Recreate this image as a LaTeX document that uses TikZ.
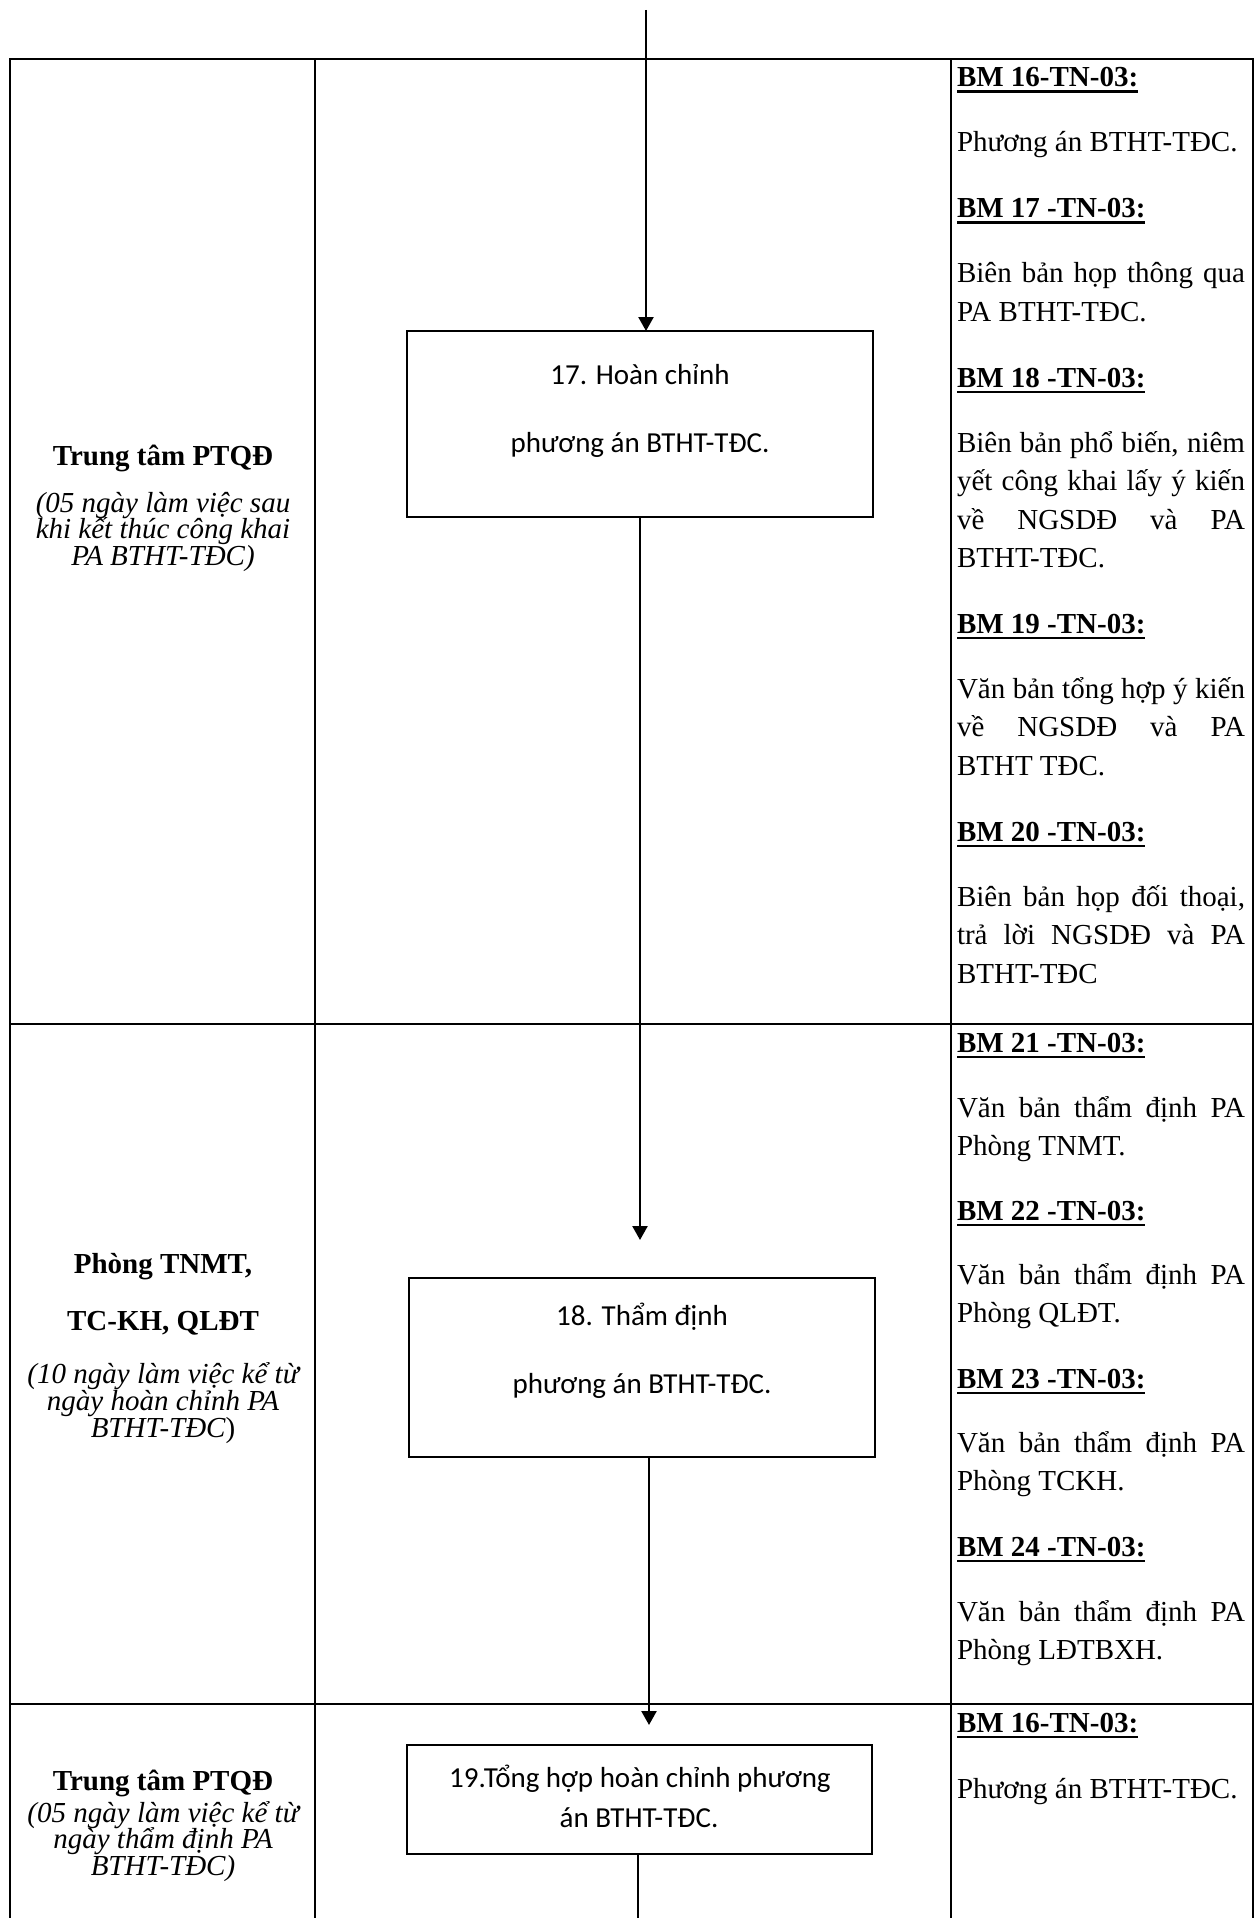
\documentclass[tikz,border=0pt]{standalone}
\usepackage{fontspec}
\setmainfont{Liberation Serif}
\newfontfamily\boxfont{Carlito}
\usetikzlibrary{arrows.meta}

% bold form code with a heavy underline
\newcommand\ulhead[1]{\setbox0\hbox{\bfseries #1}\rlap{\rule[-6pt]{\wd0}{2.5pt}}\box0}
% a full-width justified line of the form column
\newcommand\jline[1]{\makebox[288pt][s]{#1}}

\begin{document}
\begin{tikzpicture}[x=1pt,y=-1pt,
  every node/.style={inner sep=0pt, outer sep=0pt},
  grid/.style={line width=2.6pt},
  stepbox/.style={draw, line width=2pt, fill=white},
  flow/.style={line width=2.4pt},
  flowarrow/.style={line width=2.4pt, -{Triangle[length=14pt,width=15pt]}},
  doc/.style={anchor=base west, font=\fontsize{29}{34}\selectfont},
  who/.style={anchor=base, font=\fontsize{29}{34}\selectfont\bfseries},
  when/.style={anchor=base, font=\fontsize{29}{34}\selectfont\itshape},
  steptext/.style={anchor=base, font=\boxfont\fontsize{29}{34}\selectfont},
]
\useasboundingbox (0,0) rectangle (1258,1918);

% table frame
\draw[grid] (10,1918) -- (10,59) -- (1253,59) -- (1253,1918);
\draw[grid] (315,59) -- (315,1918);
\draw[grid] (951,59) -- (951,1918);
\draw[grid] (10,1024) -- (1253,1024);
\draw[grid] (10,1704) -- (1253,1704);

% process steps
\node[stepbox, minimum width=466pt, minimum height=186pt] (b17) at (640,424) {};
\node[stepbox, minimum width=466pt, minimum height=179pt] (b18) at (642,1367.5) {};
\node[stepbox, minimum width=465pt, minimum height=109pt] (b19) at (639.5,1799.5) {};

\node[steptext] (b17a) at (640,384) {17. Hoàn chỉnh};
\node[steptext] (b17b) at (640,452) {phương án BTHT-TĐC.};
\node[steptext] (b18a) at (642,1325) {18. Thẩm định};
\node[steptext] (b18b) at (642,1393) {phương án BTHT-TĐC.};
\node[steptext] (b19a) at (640,1787) {19.Tổng hợp hoàn chỉnh phương};
\node[steptext] (b19b) at (639,1827) {án BTHT-TĐC.};

% connectors
\coordinate (in) at (646,10);
\coordinate (a18) at (640,1240);
\coordinate (a19) at (649,1725);
\coordinate (out) at (638,1918);
\draw[flowarrow] (in) -- (in |- b17.north);
\draw[flowarrow] (b17.south) -- (a18);
\draw[flowarrow] (b18.south -| a19) -- (a19);
\draw[flow] (b19.south -| out) -- (out);

% responsible units and time limits
\node[who]  (w1a) at (163,465)   {Trung tâm PTQĐ};
\node[when] (w1b) at (163,512)   {(05 ngày làm việc sau};
\node[when] (w1c) at (163,538.5) {khi kết thúc công khai};
\node[when] (w1d) at (163,565)   {PA BTHT-TĐC)};

\node[who]  (w2a) at (163,1273) {Phòng TNMT,};
\node[who]  (w2b) at (163,1330) {TC-KH, QLĐT};
\node[when] (w2c) at (163,1383) {(10 ngày làm việc kể từ};
\node[when] (w2d) at (163,1410) {ngày hoàn chỉnh PA};
\node[when] (w2e) at (163,1437) {BTHT-TĐC\upshape)};

\node[who]  (w3a) at (163,1790)   {Trung tâm PTQĐ};
\node[when] (w3b) at (163,1822)   {(05 ngày làm việc kể từ};
\node[when] (w3c) at (163,1848.5) {ngày thẩm định PA};
\node[when] (w3d) at (163,1875)   {BTHT-TĐC)};

% forms, first row
\node[doc] (f16h) at (957,87)  {\ulhead{BM 16-TN-03:}};
\node[doc] (f16a) at (957,152) {Phương án BTHT-TĐC.};
\node[doc] (f17h) at (957,218) {\ulhead{BM 17 -TN-03:}};
\node[doc] (f17a) at (957,283) {\jline{Biên bản họp thông qua}};
\node[doc] (f17b) at (957,321) {PA BTHT-TĐC.};
\node[doc] (f18h) at (957,387) {\ulhead{BM 18 -TN-03:}};
\node[doc] (f18a) at (957,452) {\jline{Biên bản phổ biến, niêm}};
\node[doc] (f18b) at (957,490) {\jline{yết công khai lấy ý kiến}};
\node[doc] (f18c) at (957,529) {\jline{về NGSDĐ và PA}};
\node[doc] (f18d) at (957,567) {BTHT-TĐC.};
\node[doc] (f19h) at (957,633) {\ulhead{BM 19 -TN-03:}};
\node[doc] (f19a) at (957,698) {\jline{Văn bản tổng hợp ý kiến}};
\node[doc] (f19b) at (957,736) {\jline{về NGSDĐ và PA}};
\node[doc] (f19c) at (957,775) {BTHT TĐC.};
\node[doc] (f20h) at (957,841) {\ulhead{BM 20 -TN-03:}};
\node[doc] (f20a) at (957,906) {\jline{Biên bản họp đối thoại,}};
\node[doc] (f20b) at (957,944) {\jline{trả lời NGSDĐ và PA}};
\node[doc] (f20c) at (957,983) {BTHT-TĐC};

% forms, second row
\node[doc] (f21h) at (957,1052) {\ulhead{BM 21 -TN-03:}};
\node[doc] (f21a) at (957,1117) {\jline{Văn bản thẩm định PA}};
\node[doc] (f21b) at (957,1155) {Phòng TNMT.};
\node[doc] (f22h) at (957,1220) {\ulhead{BM 22 -TN-03:}};
\node[doc] (f22a) at (957,1284) {\jline{Văn bản thẩm định PA}};
\node[doc] (f22b) at (957,1322) {Phòng QLĐT.};
\node[doc] (f23h) at (957,1388) {\ulhead{BM 23 -TN-03:}};
\node[doc] (f23a) at (957,1452) {\jline{Văn bản thẩm định PA}};
\node[doc] (f23b) at (957,1490) {Phòng TCKH.};
\node[doc] (f24h) at (957,1556) {\ulhead{BM 24 -TN-03:}};
\node[doc] (f24a) at (957,1621) {\jline{Văn bản thẩm định PA}};
\node[doc] (f24b) at (957,1659) {Phòng LĐTBXH.};

% forms, third row
\node[doc] (f16rh) at (957,1732) {\ulhead{BM 16-TN-03:}};
\node[doc] (f16ra) at (957,1798) {Phương án BTHT-TĐC.};
\end{tikzpicture}
\end{document}
